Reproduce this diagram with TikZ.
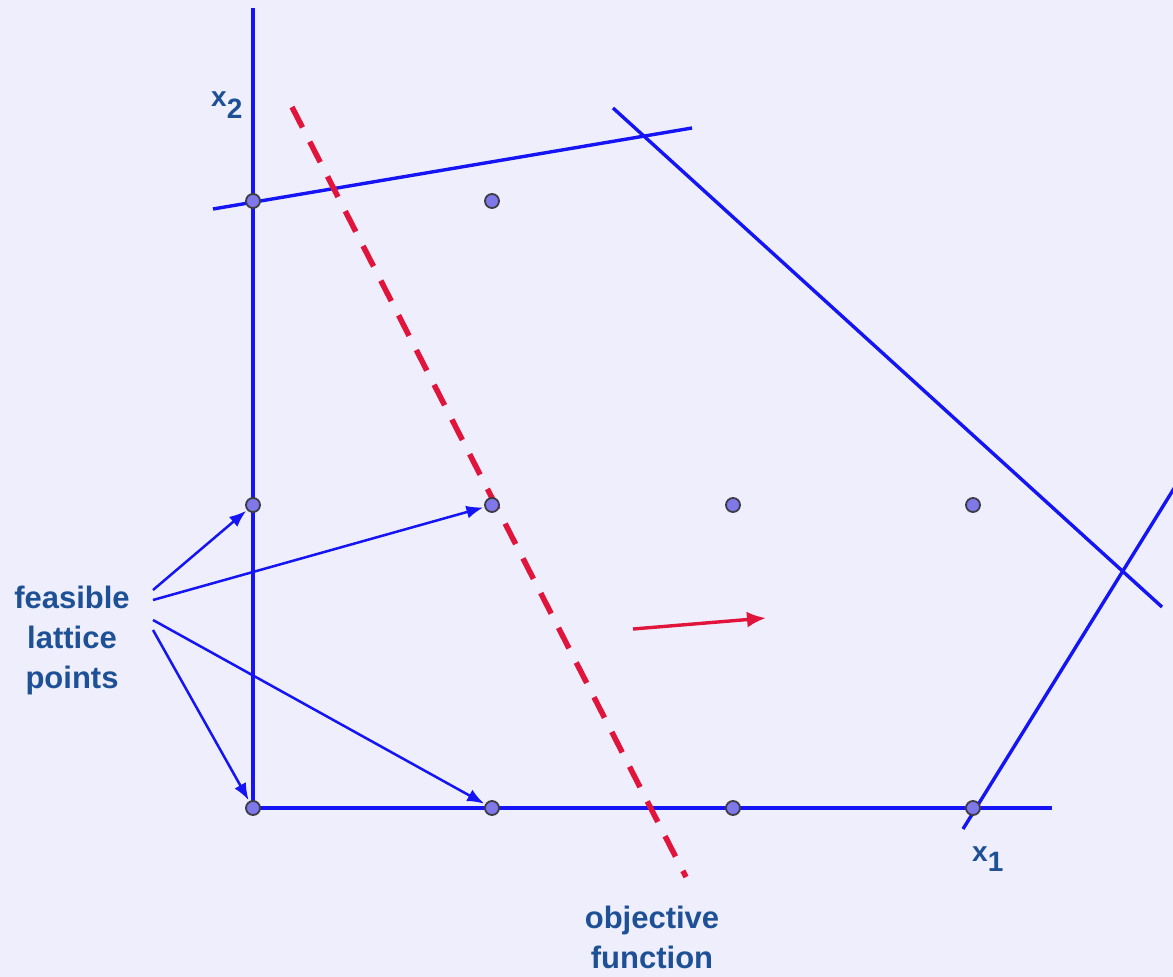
\documentclass[tikz,border=0pt]{standalone}
\usepackage{fontspec}
\setmainfont{Liberation Sans}
\usetikzlibrary{arrows.meta}
\definecolor{bg}{RGB}{238,238,252}
\definecolor{lineblue}{RGB}{20,20,245}
\definecolor{txtblue}{RGB}{30,80,150}
\definecolor{objred}{RGB}{225,20,60}
\definecolor{dotfill}{RGB}{128,120,232}
\definecolor{dotedge}{RGB}{60,60,70}
\begin{document}
\begin{tikzpicture}[x=1pt,y=-1pt,
  latdot/.style={circle,minimum size=14pt,inner sep=0pt,fill=dotfill,draw=dotedge,line width=1.8pt},
  cons/.style={lineblue,line width=3.4pt},
  ptr/.style={lineblue,line width=2.5pt,-{Latex[length=17pt,width=13pt]},shorten >=1pt},
  lbl/.style={txtblue,font=\fontsize{31}{40}\selectfont\bfseries,align=center,inner sep=0pt},
  axlbl/.style={txtblue,font=\fontsize{28}{32}\selectfont\bfseries,inner sep=0pt,anchor=base west}]
\fill[bg] (0,0) rectangle (1173,977);
\useasboundingbox (0,0) rectangle (1173,977);
% end points of the constraint lines
\coordinate (ya) at (253,8);
\coordinate (yb) at (253,808);
\coordinate (xa) at (253,808);
\coordinate (xb) at (1052,808);
\coordinate (ta) at (213,209);
\coordinate (tb) at (692,128);
\coordinate (da) at (613,108);
\coordinate (db) at (1162,607);
\coordinate (ra) at (963,829);
\coordinate (rb) at (1178,482);
% constraints
\draw[cons] (ya) -- (yb);
\draw[cons] (xa) -- (xb);
\draw[cons] (ta) -- (tb);
\draw[cons] (da) -- (db);
\draw[cons] (ra) -- (rb);
% objective function
\coordinate (oa) at (292,107);
\coordinate (ob) at (686,877);
\draw[objred,line width=5.5pt,dash pattern=on 23pt off 16pt] (oa) -- (ob);
\coordinate (va) at (633,629);
\coordinate (vb) at (766,618);
\draw[objred,line width=3.4pt,-{Latex[length=19pt,width=16pt]}] (va) -- (vb);
% lattice points
\node[latdot] (p02) at (253,201) {};
\node[latdot] (p12) at (492,201) {};
\node[latdot] (p01) at (253,505) {};
\node[latdot] (p11) at (492,505) {};
\node[latdot] (p21) at (733,505) {};
\node[latdot] (p31) at (973,505) {};
\node[latdot] (p00) at (253,808) {};
\node[latdot] (p10) at (492,808) {};
\node[latdot] (p20) at (733,808) {};
\node[latdot] (p30) at (973,808) {};
% labels
\node[lbl] (feas) at (72,640) {feasible\\lattice\\points};
\node[lbl,anchor=north] (obj) at (652,906) {objective\\function};
\node[axlbl] (x2) at (211,106) {x\raisebox{-12pt}{2}};
\node[axlbl] (x1) at (972,861) {x\raisebox{-10pt}{1}};
% pointers
\coordinate (s1) at (153,590);
\coordinate (s2) at (153,600);
\coordinate (s3) at (153,620);
\coordinate (s4) at (153,630);
\draw[ptr] (s1) -- (p01);
\draw[ptr] (s2) -- (p11);
\draw[ptr] (s3) -- (p10);
\draw[ptr] (s4) -- (p00);
\end{tikzpicture}
\end{document}
